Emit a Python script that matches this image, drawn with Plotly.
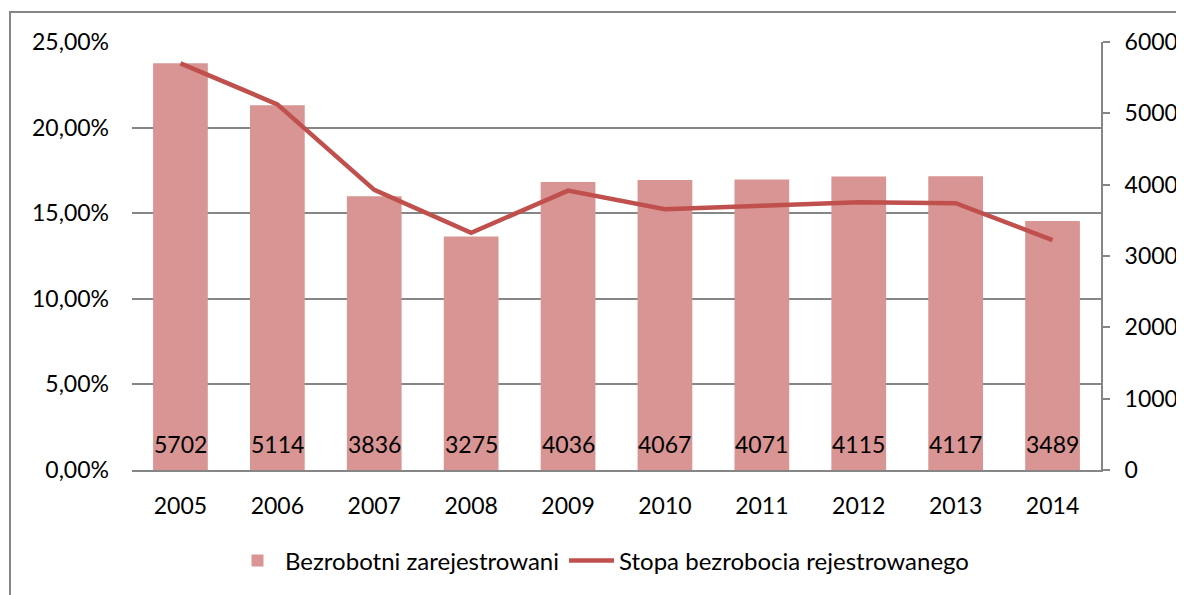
import plotly.graph_objects as go

years = ["2005", "2006", "2007", "2008", "2009", "2010", "2011", "2012", "2013", "2014"]
registered_unemployed = [5702, 5114, 3836, 3275, 4036, 4067, 4071, 4115, 4117, 3489]
unemployment_rate = [23.75, 21.36, 16.36, 13.86, 16.32, 15.23, 15.44, 15.64, 15.58, 13.43]

bar_name = "Bezrobotni zarejestrowani"
line_name = "Stopa bezrobocia rejestrowanego"

FONT = "Lato"
FS = 23
GRID = "#868686"

OFF = 8  # page body margin
W, H = 1184 - OFF, 595 - OFF
L, R, T, B = 132 - OFF, 83, 42 - OFF, 125
pw = W - L - R
ph = H - T - B

fig = go.Figure()
fig.add_trace(go.Bar(
    x=years, y=registered_unemployed, name=bar_name,
    marker=dict(color="#D99594", line=dict(width=0)),
    yaxis="y", width=0.565,
))
fig.add_trace(go.Scatter(
    x=years, y=unemployment_rate, name=line_name,
    mode="lines", line=dict(color="#C0504D", width=4.5),
    yaxis="y2",
))

annotations = []
for i, v in enumerate(registered_unemployed):
    annotations.append(dict(
        x=i, y=0, xref="x", yref="y", text=str(v), showarrow=False,
        yanchor="middle", yshift=26, font=dict(family=FONT, size=FS, color="black"),
    ))

def px_x(p):
    return (p - OFF - L) / pw

def px_y(p):
    return (H - B - (p - OFF)) / ph

fig.update_layout(
    width=W, height=H, autosize=False,
    margin=dict(l=L, r=R, t=T, b=B, autoexpand=False),
    paper_bgcolor="white", plot_bgcolor="white",
    font=dict(family=FONT, size=FS, color="black"),
    separators=",.",
    showlegend=True,
    legend=dict(orientation="h", x=px_x(602), xanchor="center", y=px_y(561), yanchor="middle",
                font=dict(family=FONT, size=24), tracegroupgap=0, itemwidth=45),
    xaxis=dict(type="category", range=[-0.5, len(years) - 0.5], autorange=False,
               showgrid=False, showline=True, linecolor=GRID, linewidth=2, automargin=False,
               ticks="", ticklabelstandoff=14, tickfont=dict(family=FONT, size=FS)),
    yaxis=dict(side="right", range=[0, 6000], dtick=1000, tickformat="d", showgrid=False,
               showline=True, linecolor=GRID, linewidth=2, ticks="outside", ticklen=7,
               tickcolor=GRID, tickwidth=2, ticklabelstandoff=10, zeroline=False,
               automargin=False, tickfont=dict(family=FONT, size=FS)),
    yaxis2=dict(overlaying="y", side="left", range=[0, 25], dtick=5, tickformat=".2f",
                ticksuffix="%", showgrid=True, gridcolor=GRID, gridwidth=2, showline=False,
                ticks="", zeroline=False, ticklabelstandoff=22, automargin=False,
                tickfont=dict(family=FONT, size=FS)),
    annotations=annotations,
    shapes=[dict(type="rect", xref="paper", yref="paper",
                 x0=px_x(10), x1=px_x(1200), y0=px_y(610), y1=px_y(12),
                 line=dict(color=GRID, width=2), layer="below")],
)

fig.write_html("out.html")
